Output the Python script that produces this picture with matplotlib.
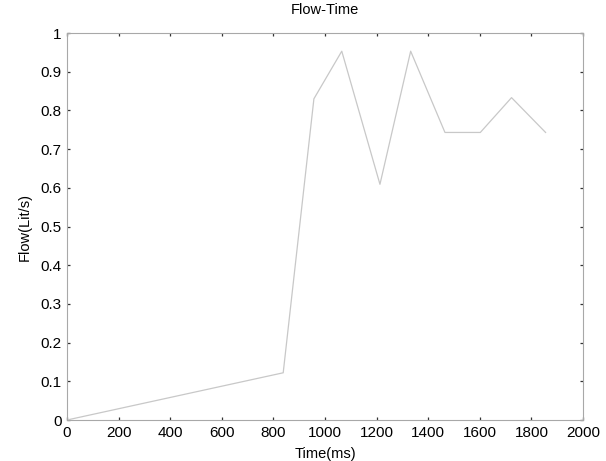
import matplotlib
matplotlib.use("Agg")
import matplotlib.pyplot as plt

# readings from the reference
time_ms = [0, 838, 957, 1065, 1213, 1332, 1465, 1602, 1723, 1855]
flow = [0.0, 0.122, 0.83, 0.953, 0.609, 0.953, 0.743, 0.743, 0.833, 0.743]
xticks = [0, 200, 400, 600, 800, 1000, 1200, 1400, 1600, 1800, 2000]
yticks = [0, 0.1, 0.2, 0.3, 0.4, 0.5, 0.6, 0.7, 0.8, 0.9, 1]

plt.rcParams["font.family"] = ["Liberation Sans", "DejaVu Sans"]

fig = plt.figure(figsize=(6.06, 4.61), dpi=100)
ax = fig.add_axes([67 / 606, 1 - 420 / 461, (583 - 67) / 606, (420 - 33) / 461])

ax.plot(time_ms, flow, color="#c8c8c8", lw=0.9)

ax.set_xlim(0, 2000)
ax.set_ylim(0, 1)
ax.set_xticks(xticks)
ax.set_yticks(yticks)
ax.set_xticklabels([str(t) for t in xticks])
ax.set_yticklabels(["0", "0.1", "0.2", "0.3", "0.4", "0.5", "0.6", "0.7", "0.8", "0.9", "1"])
ax.tick_params(direction="in", length=2.5, width=0.9, color="#333333", labelsize=11,
               top=True, right=True, pad=4)
for s in ax.spines.values():
    s.set_color("#a8a8a8")
    s.set_linewidth(0.8)

ax.set_title("Flow-Time", fontsize=10.5, pad=14)
ax.set_xlabel("Time(ms)", fontsize=10.5, labelpad=5)
ax.set_ylabel("Flow(Lit/s)", fontsize=10.5, labelpad=6)

fig.savefig("out.png", dpi=100)
